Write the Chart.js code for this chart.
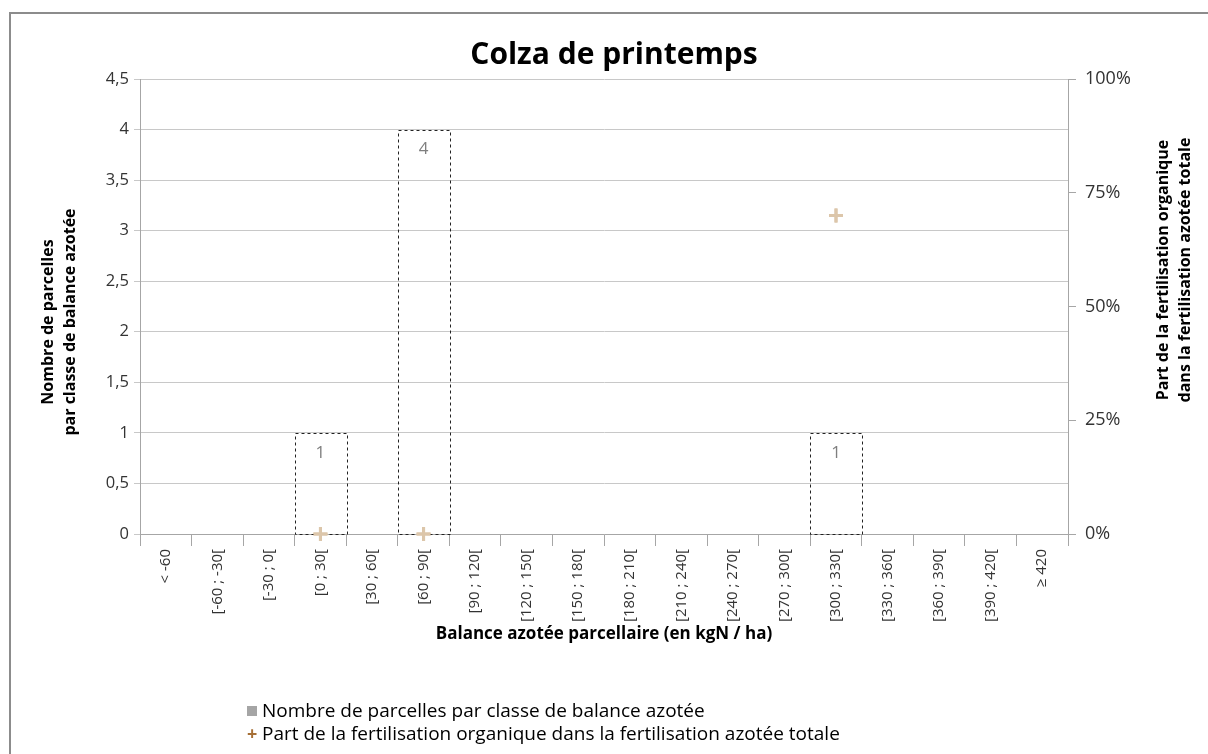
<!DOCTYPE html>
<html>
<head>
<meta charset="utf-8">
<script src="https://cdn.jsdelivr.net/npm/chart.js@4/dist/chart.umd.min.js"></script>
<style>
  body { margin: 0; background: #fff; font-family: 'Open Sans', sans-serif; }
  #wrap { position: relative; width: 1208px; height: 754px; overflow: hidden; }
  #frame { position: absolute; left: 9px; top: 12px; width: 1300px; height: 900px; border-left: 2px solid #8c8c8c; border-top: 2px solid #8c8c8c; }
  #chart { position: absolute; left: 0; top: 0; }
  #legend { position: absolute; left: 247px; top: 699px; font-size: 19px; color: #000; line-height: 23px; }
  .item { display: flex; align-items: center; white-space: nowrap; }
  .sq { display: inline-block; width: 10px; height: 10px; background: #a5a5a5; margin-right: 5px; }
  .plus { display: inline-block; width: 10px; margin-right: 5px; color: #a66f36; font-weight: bold; font-size: 18px; text-align: center; }
</style>
</head>
<body>
<div id="wrap">
  <div id="frame"></div>
  <canvas id="chart" width="1208" height="754"></canvas>
  <div id="legend">
    <div class="item"><span class="sq"></span>Nombre de parcelles par classe de balance azotée</div>
    <div class="item"><span class="plus">+</span>Part de la fertilisation organique dans la fertilisation azotée totale</div>
  </div>
</div>
<script>
// Classes de balance azotée
const classes = ['< -60', '[-60 ; -30[', '[-30 ; 0[', '[0 ; 30[', '[30 ; 60[', '[60 ; 90[', '[90 ; 120[',
    '[120 ; 150[', '[150 ; 180[', '[180 ; 210[', '[210 ; 240[', '[240 ; 270[', '[270 ; 300[',
    '[300 ; 330[', '[330 ; 360[', '[360 ; 390[', '[390 ; 420[', '≥ 420'];
const nbParcelles = [null, null, null, 1, null, 4, null, null, null, null, null, null, null, 1, null, null, null, null];
const partOrganique = [null, null, null, 0, null, 0, null, null, null, null, null, null, null, 0.70, null, null, null, null];
const leftTicks = [0, 0.5, 1, 1.5, 2, 2.5, 3, 3.5, 4, 4.5];
const rightTicks = [0, 0.25, 0.5, 0.75, 1];

const FONT = "'Open Sans', sans-serif";
const GRID = '#c8c8c8';
const AXIS = '#a6a6a6';

// dashed outline + value label for the bars
const barOutline = {
    id: 'barOutline',
    afterDatasetsDraw(chart) {
        const ctx = chart.ctx;
        const meta = chart.getDatasetMeta(1);
        ctx.save();
        meta.data.forEach((bar, i) => {
            const v = nbParcelles[i];
            if (v == null) return;
            const p = bar.getProps(['x', 'y', 'base', 'width'], true);
            ctx.setLineDash([3, 3]);
            ctx.strokeStyle = '#222';
            ctx.lineWidth = 1;
            ctx.strokeRect(Math.round(p.x - p.width / 2) + 0.5, Math.round(p.y) + 0.5, Math.round(p.width), Math.round(p.base - p.y));
            ctx.setLineDash([]);
            ctx.fillStyle = '#7f7f7f';
            ctx.font = '17px ' + FONT;
            ctx.textAlign = 'center';
            ctx.textBaseline = 'middle';
            ctx.fillText(String(v), p.x, p.y + 20);
        });
        ctx.restore();
        // crosses on top of the outlines
        const sm = chart.getDatasetMeta(0);
        sm.data.forEach(pt => pt.draw(ctx));
    }
};

// axis titles, both read bottom to top
const axisTitles = {
    id: 'axisTitles',
    afterDraw(chart) {
        const ctx = chart.ctx;
        ctx.save();
        ctx.font = 'bold 16px ' + FONT;
        ctx.fillStyle = '#000';
        ctx.textAlign = 'center';
        ctx.textBaseline = 'middle';
        ctx.translate(48, 322);
        ctx.rotate(-Math.PI / 2);
        ctx.fillText('Nombre de parcelles', 0, 0);
        ctx.fillText('par classe de balance azotée', 0, 22);
        ctx.restore();
        ctx.save();
        ctx.font = 'bold 16px ' + FONT;
        ctx.fillStyle = '#000';
        ctx.textAlign = 'center';
        ctx.textBaseline = 'middle';
        ctx.translate(1163, 270);
        ctx.rotate(-Math.PI / 2);
        ctx.fillText('Part de la fertilisation organique', 0, 0);
        ctx.fillText('dans la fertilisation azotée totale', 0, 22);
        ctx.restore();
    }
};

new Chart(document.getElementById('chart'), {
    data: {
        labels: classes,
        datasets: [{
            type: 'scatter',
            label: 'Part de la fertilisation organique dans la fertilisation azotée totale',
            data: partOrganique,
            yAxisID: 'y1',
            xAxisID: 'x',
            showLine: false,
            clip: false,
            pointStyle: 'cross',
            pointRadius: 7,
            pointBorderWidth: 3,
            borderColor: '#dcc6aa',
            backgroundColor: '#dcc6aa',
            order: 0
        }, {
            type: 'bar',
            label: 'Nombre de parcelles par classe de balance azotée',
            data: nbParcelles,
            yAxisID: 'y',
            backgroundColor: 'rgba(255,255,255,0)',
            borderWidth: 0,
            barPercentage: 1,
            categoryPercentage: 1,
            order: 1
        }]
    },
    options: {
        responsive: false,
        animation: false,
        layout: { padding: { left: 20, right: 0, top: 0, bottom: 100 } },
        scales: {
            x: {
                type: 'category',
                offset: true,
                grid: { offset: true, drawOnChartArea: false, drawTicks: true, tickLength: 12, color: AXIS },
                border: { display: true, color: AXIS },
                ticks: { color: '#333', font: { family: FONT, size: 15 }, minRotation: 90, maxRotation: 90, autoSkip: false, padding: 3 },
                title: { display: true, text: 'Balance azotée parcellaire (en kgN / ha)', color: '#000', font: { family: FONT, size: 17, weight: 'bold' }, padding: { top: 2, bottom: 10 } },
                afterFit(s) { s.height = 120; }
            },
            y: {
                position: 'left',
                min: 0,
                max: 4.5,
                afterBuildTicks(s) { s.ticks = leftTicks.map(v => ({ value: v })); },
                grid: { color: GRID, tickLength: 6 },
                border: { display: true, color: AXIS },
                ticks: { color: '#333', font: { family: FONT, size: 16.5 }, padding: 5,
                    callback: v => String(v).replace('.', ',') },
                afterFit(s) { s.width = 120; }
            },
            y1: {
                position: 'right',
                min: 0,
                max: 1,
                afterBuildTicks(s) { s.ticks = rightTicks.map(v => ({ value: v })); },
                grid: { drawOnChartArea: false, tickLength: 8, color: AXIS },
                border: { display: true, color: AXIS },
                ticks: { color: '#333', font: { family: FONT, size: 18 }, padding: 9,
                    callback: v => Math.round(v * 100) + '%' },
                afterFit(s) { s.width = 140; }
            }
        },
        plugins: {
            legend: { display: false },
            tooltip: { enabled: false },
            title: { display: true, text: 'Colza de printemps', color: '#000', font: { family: FONT, size: 30, weight: 'bold' }, padding: { top: 37, bottom: 6 } }
        }
    },
    plugins: [barOutline, axisTitles]
});
</script>
</body>
</html>
